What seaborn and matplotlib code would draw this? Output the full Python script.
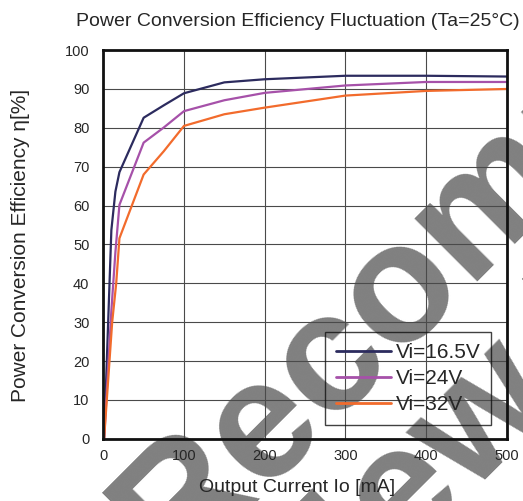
import pandas as pd
import seaborn as sns
import matplotlib.pyplot as plt

# values
current_165 = [1, 10, 15, 20, 50, 75, 100, 150, 200, 300, 400, 500]
eff_165 = [0, 53.7, 63.6, 68.6, 82.6, 85.8, 88.9, 91.7, 92.5, 93.4, 93.4, 93.2]

current_24 = [1, 10, 15, 20, 50, 75, 100, 150, 200, 300, 400, 500]
eff_24 = [0, 33, 48, 60.2, 76.2, 80.1, 84.3, 87.1, 89.0, 90.9, 91.8, 91.8]

current_32 = [1, 11, 16, 20, 50, 75, 100, 150, 200, 300, 400, 500]
eff_32 = [0, 30, 40, 51.6, 68.0, 74.0, 80.5, 83.5, 85.2, 88.3, 89.5, 90.0]

series_names = ["Vi=16.5V", "Vi=24V", "Vi=32V"]
x_ticks = [0, 100, 200, 300, 400, 500]
y_ticks = [0, 10, 20, 30, 40, 50, 60, 70, 80, 90, 100]

df = pd.concat([
    pd.DataFrame({"Io": current_165, "eff": eff_165, "Vi": series_names[0]}),
    pd.DataFrame({"Io": current_24, "eff": eff_24, "Vi": series_names[1]}),
    pd.DataFrame({"Io": current_32, "eff": eff_32, "Vi": series_names[2]}),
])

sns.set_style("white")
plt.rcParams["font.family"] = ["Liberation Sans", "DejaVu Sans"]

palette = {"Vi=16.5V": "#2c2b5e", "Vi=24V": "#a651a9", "Vi=32V": "#f26b2c"}

fig = plt.figure(figsize=(5.23, 5.01), dpi=100)
ax = fig.add_axes([0.1975, 0.124, 0.7715, 0.776])
ax.set_facecolor("none")

sns.lineplot(data=df, x="Io", y="eff", hue="Vi", palette=palette,
             estimator=None, sort=False, linewidth=1.6, ax=ax)

ax.set_xlim(0, 500)
ax.set_ylim(0, 100)
ax.set_xticks(x_ticks)
ax.set_yticks(y_ticks)
ax.grid(True, color="#4a4a4a", linewidth=0.8)
ax.tick_params(axis="both", length=0, labelsize=10.5, labelcolor="#262626")
ax.tick_params(axis="y", pad=10)
ax.tick_params(axis="x", pad=7)
for s in ax.spines.values():
    s.set_color("#111111")
    s.set_linewidth(2.0)

ax.set_xlabel("")
ax.set_ylabel("")
fig.text(0.568, 0.026, "Output Current Io [mA]", ha="center", va="center", fontsize=14)
fig.text(0.040, 0.511, "Power Conversion Efficiency η[%]", ha="center", va="center",
         rotation=90, fontsize=15)
fig.text(0.570, 0.957, "Power Conversion Efficiency Fluctuation (Ta=25°C)",
         ha="center", va="center", fontsize=14)

leg = ax.legend(loc="lower left", bbox_to_anchor=(0.55, 0.036), fontsize=15,
                handlelength=2.65, handletextpad=0.25, labelspacing=0.35,
                borderpad=0.5, borderaxespad=0, fancybox=False)
leg.get_frame().set_facecolor("none")
leg.get_frame().set_edgecolor("#111111")
leg.get_frame().set_linewidth(1.0)
for line in leg.get_lines():
    line.set_linewidth(2.0)

# gray diagonal watermark behind the chart
fig.text(0.977, 0.421, "Not Recommended\nfor New Designs", ha="center", va="center",
         rotation=45, fontsize=122, fontweight="bold", color="#808080",
         linespacing=0.9, multialignment="center", zorder=-1)

fig.savefig("out.png", dpi=100)
